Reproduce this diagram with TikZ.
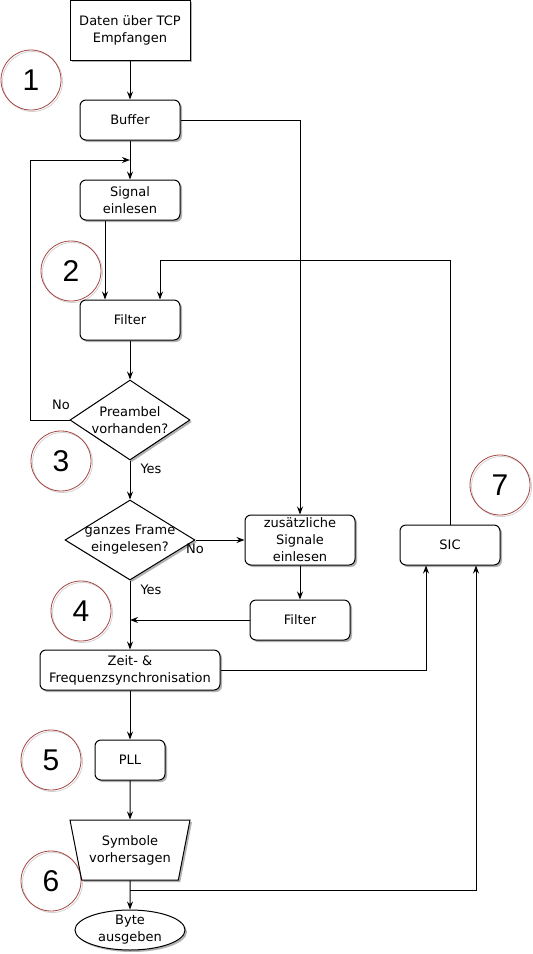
\documentclass[tikz,border=0pt]{standalone}
\usepackage{fontspec}
\setmainfont{DejaVu Sans}
\newfontfamily\numfont{Liberation Sans}
\usetikzlibrary{shapes.geometric,arrows.meta,shadows}
\definecolor{circred}{RGB}{165,70,66}
\tikzset{
  every node/.style={font=\fontsize{13}{17}\selectfont, align=center},
  shad/.style={drop shadow={shadow xshift=2pt, shadow yshift=-2pt, fill=black, opacity=.3}},
  procbox/.style={draw, line width=1pt, fill=white, shad, rounded corners=6pt, minimum width=100pt, minimum height=40pt, inner sep=0pt},
  startbox/.style={draw, line width=1pt, fill=white, shad, minimum width=120pt, minimum height=60pt, inner sep=0pt},
  dia/.style={draw, line width=1pt, fill=white, shad, diamond, inner sep=0pt},
  oval/.style={draw, line width=1pt, fill=white, shad, ellipse, inner sep=0pt, minimum width=110pt, minimum height=40pt},
  trap/.style={draw, line width=1pt, fill=white, shad, trapezium, trapezium stretches=true, trapezium angle=71.57, shape border rotate=180, minimum width=120pt, minimum height=60pt, inner sep=0pt},
  arr/.style={-{Stealth[length=8pt,width=6pt]}},
  conn/.style={line width=1pt},
  numcirc/.style={draw=circred, line width=0.8pt, circle, minimum size=60pt, inner sep=0pt, font=\numfont\fontsize{30}{30}\selectfont},
  numshade/.style={draw=gray!35, line width=0.8pt, circle, minimum size=60pt, inner sep=0pt},
  lbl/.style={font=\fontsize{13}{17}\selectfont}
}
\begin{document}
\begin{tikzpicture}[x=1pt,y=-1pt]
\useasboundingbox (0,0) rectangle (533,954);
% numbered circles
\foreach \n/\cx/\cy in {1/31/80, 2/71/271, 3/61/461, 4/81/611, 5/51/760, 6/51/881, 7/500/485}{
  \node[numshade] (s\n) at (\cx+1.5,\cy+1.5) {};
  \node[numcirc] (c\n) at (\cx,\cy) {\n};
}
% nodes
\node[startbox] (tcp) at (130,30) {Daten über TCP\\Empfangen};
\node[procbox] (buffer) at (130,120) {Buffer};
\node[procbox] (signal) at (130,200) {Signal\\einlesen};
\node[procbox] (filter) at (130,320) {Filter};
\node[dia, minimum width=120pt, minimum height=80pt] (d1) at (130,420) {};
\node at (d1) {Preambel\\vorhanden?};
\node[dia, minimum width=130pt, minimum height=80pt] (d2) at (130,540) {};
\node at (d2) {ganzes Frame\\eingelesen?};
\node[procbox, minimum width=110pt, minimum height=50pt] (zus) at (300,540) {zusätzliche\\Signale\\einlesen};
\node[procbox] (filt2) at (300,620) {Filter};
\node[procbox, minimum width=180pt] (zeit) at (130,670) {Zeit- \&\\Frequenzsynchronisation};
\node[procbox] (sic) at (450,545) {SIC};
\node[procbox, minimum width=70pt] (pll) at (130,760) {PLL};
\node[trap] (sym) at (130,850) {Symbole\\vorhersagen};
\node[oval] (byte) at (130,930) {};
\node at (byte) {Byte\\ausgeben};
% labels
\node[lbl] (no1) at (61,405) {No};
\node[lbl] (yes1) at (151,469) {Yes};
\node[lbl] (no2) at (195,549) {No};
\node[lbl] (yes2) at (151,590) {Yes};
% junction coordinates
\coordinate (j1) at (130,160);
\coordinate (j2) at (130,620);
\coordinate (j3) at (130,890);
% connectors
\draw[conn,arr] (tcp.south) -- (buffer.north);
\draw[conn,arr] (buffer.south) -- (signal.north);
\draw[conn,arr] (d1.west) -- (30,420) -- (30,160) -- (j1);
\draw[conn,arr] ([xshift=-25pt]signal.south) -- ([xshift=-25pt]filter.north);
\draw[conn,arr] (sic.north) -- (450,260) -- (160,260) -- ([xshift=30pt]filter.north);
\draw[conn,arr] (filter.south) -- (d1.north);
\draw[conn,arr] (d1.south) -- (d2.north);
\draw[conn,arr] (buffer.east) -- (300,120) -- (zus.north);
\draw[conn,arr] (d2.east) -- (zus.west);
\draw[conn,arr] (zus.south) -- (filt2.north);
\draw[conn,arr] (filt2.west) -- (j2);
\draw[conn,arr] (d2.south) -- (zeit.north);
\draw[conn,arr] (zeit.east) -- (426,670) -- ([xshift=-24pt]sic.south);
\draw[conn,arr] (zeit.south) -- (pll.north);
\draw[conn,arr] (pll.south) -- (sym.north);
\draw[conn,arr] (sym.south) -- (byte.north);
\draw[conn,arr] (j3) -- (476,890) -- ([xshift=26pt]sic.south);
\end{tikzpicture}
\end{document}
